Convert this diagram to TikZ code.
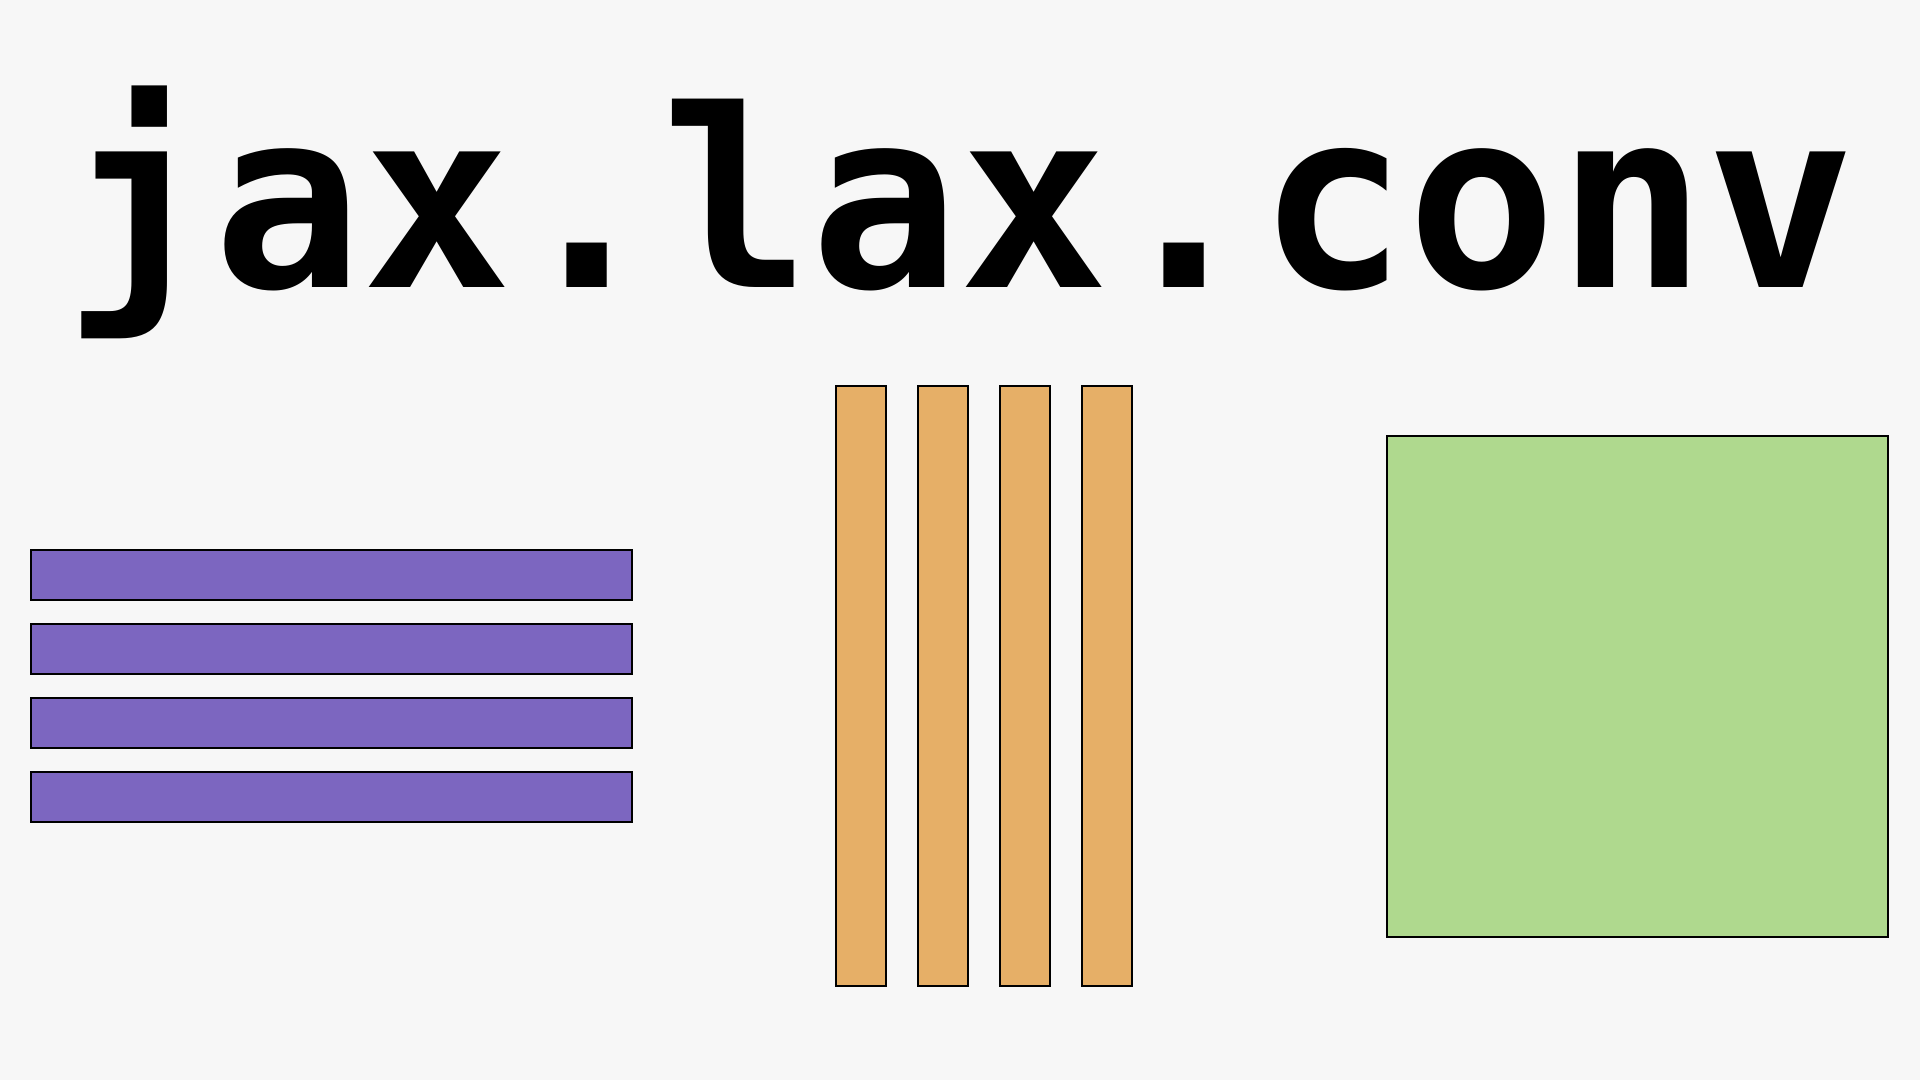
\documentclass[tikz,border=0pt]{standalone}
\usepackage{fontspec}
\newfontfamily\codefont{DejaVu Sans Mono}
\definecolor{bgGray}{HTML}{F7F7F7}
\definecolor{rowPurple}{HTML}{7C66C0}
\definecolor{colOrange}{HTML}{E6AF67}
\definecolor{outGreen}{HTML}{AFD98E}
\begin{document}
\begin{tikzpicture}[x=0.5pt, y=-0.5pt, bar/.style={draw=black, line width=0.7pt}]
  \fill[bgGray] (0,0) rectangle (1920,1080);
  \useasboundingbox (0,0) rectangle (1920,1080);
  % title
  \node[anchor=base, inner sep=0, font=\codefont\bfseries\fontsize{124}{124}\selectfont]
    (title) at (960,288) {jax.lax.conv};
  % rows (lhs)
  \foreach \y in {550, 624, 698, 772}
    \draw[bar, fill=rowPurple] (31,\y) rectangle (632,\y+50);
  % columns (rhs)
  \foreach \x in {836, 918, 1000, 1082}
    \draw[bar, fill=colOrange] (\x,386) rectangle (\x+50,986);
  % output
  \draw[bar, fill=outGreen] (1387,436) rectangle (1888,937);
\end{tikzpicture}
\end{document}
